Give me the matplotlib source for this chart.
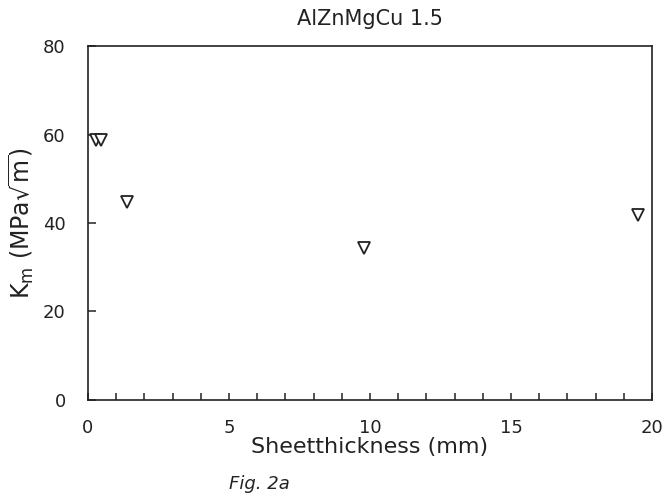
import numpy as np
import matplotlib
matplotlib.use("Agg")
import matplotlib.pyplot as plt

# values
thickness = [0.3, 0.45, 1.4, 9.8, 19.5]
km = [58.7, 58.7, 44.8, 34.4, 41.8]

x_ticks = [0, 5, 10, 15, 20]
y_ticks = [0, 20, 40, 60, 80]

plt.rcParams['font.family'] = ['DejaVu Sans']
plt.rcParams['mathtext.fontset'] = 'dejavusans'

fig = plt.figure(figsize=(6.66, 4.96), dpi=100)
ax = fig.add_axes([0.132, 0.194, 0.847, 0.713])

ax.plot(thickness, km, linestyle='none', marker='v', markersize=8,
        markerfacecolor='white', markeredgecolor='#222222', markeredgewidth=1.3)

ax.set_xlim(0, 20)
ax.set_ylim(0, 80)
ax.set_xticks(x_ticks)
ax.set_xticks(np.arange(0, 21, 1), minor=True)
ax.set_yticks(y_ticks)
ax.tick_params(axis='x', which='both', direction='in', length=5, width=1.1,
               pad=14, labelsize=13, colors='#222222', top=False)
ax.tick_params(axis='y', direction='in', length=6, width=1.1, pad=16,
               labelsize=13, colors='#222222', right=False)
for s in ax.spines.values():
    s.set_linewidth(1.2)
    s.set_color('#222222')

ax.set_xlabel('Sheetthickness (mm)', fontsize=16, color='#222222', labelpad=0)
ax.set_ylabel(r'K$_\mathregular{m}$ (MPa$\sqrt{\mathregular{m}}$)', fontsize=17,
              color='#222222', labelpad=5)
ax.set_title('AlZnMgCu 1.5', fontsize=15, color='#222222', pad=15)

fig.text(0.39, 0.015, 'Fig. 2a', fontsize=13, style='italic', color='#222222',
         ha='center')

fig.savefig('out.png', dpi=100)
